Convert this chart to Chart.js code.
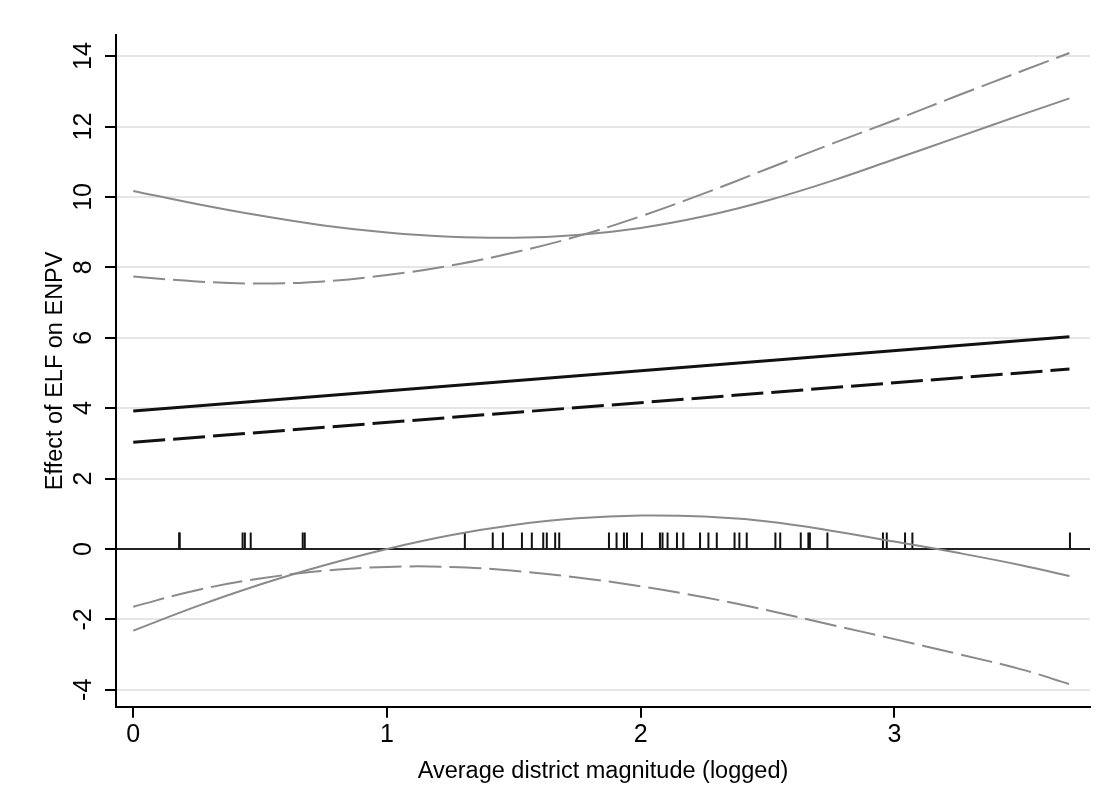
<!DOCTYPE html>
<html>
<head>
<meta charset="utf-8">
<script src="https://cdn.jsdelivr.net/npm/chart.js@4.4.1/dist/chart.umd.min.js"></script>
<style>
  html, body { margin: 0; padding: 0; background: #fff; }
</style>
</head>
<body>
<canvas id="effectChart" width="1112" height="811"></canvas>
<script>
// x grid (average district magnitude, logged)
const xGrid = [0, 0.25, 0.5, 0.75, 1, 1.25, 1.5, 1.75, 2, 2.25, 2.5, 2.75, 3, 3.25, 3.5, 3.69];

// confidence bounds, solid model
const upperSolid = [10.17, 9.8, 9.47, 9.19, 8.99, 8.87, 8.84, 8.92, 9.12, 9.45, 9.9, 10.45, 11.07, 11.7, 12.33, 12.8];
const lowerSolid = [-2.32, -1.63, -1.01, -0.47, 0.0, 0.39, 0.68, 0.87, 0.95, 0.92, 0.78, 0.52, 0.21, -0.11, -0.46, -0.77];

// confidence bounds, dashed model
const upperDashed = [7.74, 7.6, 7.54, 7.6, 7.78, 8.05, 8.42, 8.88, 9.45, 10.1, 10.8, 11.5, 12.18, 12.88, 13.57, 14.09];
const lowerDashed = [-1.64, -1.17, -0.84, -0.62, -0.51, -0.51, -0.62, -0.81, -1.06, -1.37, -1.74, -2.15, -2.56, -2.98, -3.42, -3.84];

// marginal effect lines (straight)
const effectX = [0, 3.69];
const effectSolid = [3.92, 6.03];
const effectDashed = [3.03, 5.11];

// rug of observed district magnitudes
const rugX = [0.181, 0.183, 0.431, 0.440, 0.463, 0.668, 0.676, 1.307, 1.417, 1.457, 1.532, 1.571,
  1.616, 1.630, 1.663, 1.679, 1.875, 1.905, 1.934, 1.946, 2.005, 2.076, 2.086, 2.106, 2.143,
  2.168, 2.234, 2.267, 2.300, 2.370, 2.389, 2.418, 2.531, 2.550, 2.631, 2.661, 2.667, 2.736,
  2.955, 2.970, 3.042, 3.071, 3.692];
const rugLevel = 0.24;

const xTicks = [0, 1, 2, 3];
const yTicks = [-4, -2, 0, 2, 4, 6, 8, 10, 12, 14];

const pairs = (xs, ys) => xs.map((x, i) => ({x: x, y: ys[i]}));

const grey = '#8a8a8a';
const dash = [32, 8];

const ctx = document.getElementById('effectChart').getContext('2d');
const chart = new Chart(ctx, {
    type: 'line',
    data: {
        datasets: [
            { data: pairs(xGrid, upperSolid), borderColor: grey, borderWidth: 2 },
            { data: pairs(xGrid, lowerSolid), borderColor: grey, borderWidth: 2 },
            { data: pairs(xGrid, upperDashed), borderColor: grey, borderWidth: 2, borderDash: dash },
            { data: pairs(xGrid, lowerDashed), borderColor: grey, borderWidth: 2, borderDash: dash },
            { data: pairs(effectX, effectSolid), borderColor: '#111', borderWidth: 3, tension: 0 },
            { data: pairs(effectX, effectDashed), borderColor: '#111', borderWidth: 3, borderDash: dash, tension: 0 },
            {
                type: 'scatter',
                data: rugX.map(x => ({x: x, y: rugLevel})),
                showLine: false,
                pointStyle: 'line',
                rotation: 90,
                pointRadius: 8,
                pointHoverRadius: 8,
                borderColor: '#111',
                borderWidth: 2
            }
        ]
    },
    options: {
        responsive: false,
        animation: false,
        events: [],
        layout: { padding: { top: 35, right: 22, left: 0, bottom: 0 } },
        elements: {
            point: { radius: 0 },
            line: { tension: 0.4, fill: false }
        },
        plugins: {
            legend: { display: false },
            tooltip: { enabled: false }
        },
        scales: {
            x: {
                type: 'linear',
                min: -0.068,
                max: 3.771,
                afterBuildTicks: s => { s.ticks = xTicks.map(v => ({value: v})); },
                afterFit: s => { s.height = 104.3; },
                grid: { drawOnChartArea: false, tickLength: 11, tickColor: '#000', lineWidth: 2 },
                border: { color: '#000', width: 2 },
                ticks: { color: '#000', padding: 2, font: { family: 'Liberation Sans', size: 25 } },
                title: {
                    display: true,
                    text: 'Average district magnitude (logged)',
                    color: '#000',
                    font: { family: 'Liberation Sans', size: 23.5 },
                    padding: { top: 0, bottom: 25 }
                }
            },
            y: {
                type: 'linear',
                min: -4.48,
                max: 14.6,
                afterBuildTicks: s => { s.ticks = yTicks.map(v => ({value: v})); },
                afterFit: s => { s.width = 116; },
                grid: {
                    tickLength: 11,
                    tickColor: '#000',
                    color: c => (c.tick && c.tick.value === 0) ? '#222' : '#e6e6e6',
                    lineWidth: 2
                },
                border: { color: '#000', width: 2 },
                ticks: {
                    color: '#000',
                    minRotation: 90,
                    maxRotation: 90,
                    crossAlign: 'center',
                    padding: 7,
                    font: { family: 'Liberation Sans', size: 25 }
                },
                title: {
                    display: true,
                    text: 'Effect of ELF on ENPV',
                    color: '#000',
                    font: { family: 'Liberation Sans', size: 23.5 },
                    padding: { top: 41, bottom: 0 }
                }
            }
        }
    }
});
</script>
</body>
</html>
